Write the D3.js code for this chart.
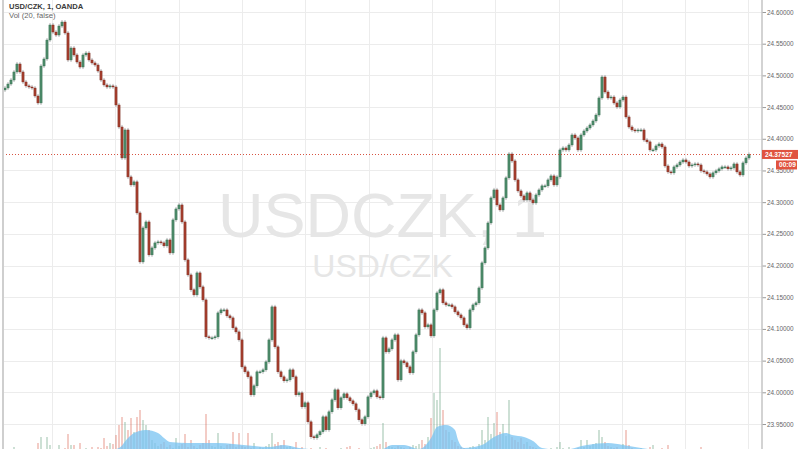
<!DOCTYPE html>
<html><head><meta charset="utf-8">
<script src="https://cdn.jsdelivr.net/npm/d3@7"></script>
<style>html,body{margin:0;padding:0;background:#fff;overflow:hidden}</style>
</head><body>
<svg id="c" width="800" height="449"></svg>
<script>
// ---- data ----
const title = "USD/CZK, 1, OANDA";
const volTitle = "Vol (20, false)";
const watermark = "USDCZK, 1";
const watermarkSub = "USD/CZK";
const lastPrice = 24.37527;
const countdown = "00:09";
const firstOpen = 24.4770;
const closes = [
24.4801,24.4864,24.4927,24.5054,24.5180,24.5054,24.4896,24.4834,24.4817,24.4801,
24.4675,24.4565,24.5148,24.5259,24.5558,24.5795,24.5684,24.5637,24.5779,24.5842,
24.5669,24.5243,24.5432,24.5322,24.5211,24.5132,24.5322,24.5353,24.5243,24.5196,
24.5164,24.5069,24.4927,24.4849,24.4817,24.4834,24.4817,24.4533,24.4186,24.3697,
24.4139,24.3398,24.3272,24.3320,24.2830,24.2057,24.2593,24.2688,24.2168,24.2278,
24.2357,24.2373,24.2357,24.2310,24.2404,24.2199,24.2720,24.2893,24.2956,24.2688,
24.2089,24.1852,24.1617,24.1537,24.1884,24.1663,24.1458,24.0875,24.0859,24.0859,
24.0875,24.1253,24.1300,24.1300,24.1206,24.1174,24.1017,24.0953,24.0827,24.0401,
24.0323,24.0244,23.9960,24.0102,24.0323,24.0323,24.0354,24.0480,24.0827,24.1348,
24.0717,24.0323,24.0244,24.0181,24.0196,24.0354,24.0244,23.9960,23.9991,23.9771,
23.9834,23.9534,23.9298,23.9282,23.9329,23.9377,23.9613,23.9408,23.9692,23.9881,
24.0039,23.9755,23.9913,23.9976,23.9913,23.9865,23.9818,23.9724,23.9566,23.9503,
23.9613,23.9928,23.9991,24.0023,23.9928,23.9913,24.0859,24.0638,24.0685,24.0827,
24.0906,24.0196,24.0496,24.0465,24.0401,24.0307,24.0638,24.0906,24.1300,24.1253,
24.1032,24.1064,24.0890,24.1300,24.1568,24.1617,24.1411,24.1379,24.1379,24.1348,
24.1269,24.1221,24.1174,24.1064,24.1017,24.1300,24.1379,24.1411,24.1647,24.2042,
24.2278,24.2672,24.3067,24.3193,24.2956,24.2877,24.3067,24.3383,24.3760,24.3650,
24.3351,24.3177,24.3098,24.3035,24.3146,24.3035,24.2988,24.3114,24.3193,24.3257,
24.3257,24.3351,24.3414,24.3272,24.3398,24.3824,24.3855,24.3824,24.3902,24.4060,
24.4013,24.3824,24.4060,24.4123,24.4170,24.4218,24.4281,24.4375,24.4644,24.4975,
24.4738,24.4644,24.4659,24.4565,24.4502,24.4612,24.4659,24.4344,24.4186,24.4139,
24.4123,24.4139,24.4139,24.3981,24.3951,24.3824,24.3824,24.3887,24.3918,24.3871,
24.3571,24.3477,24.3462,24.3556,24.3587,24.3634,24.3666,24.3634,24.3571,24.3587,
24.3603,24.3587,24.3493,24.3477,24.3445,24.3398,24.3462,24.3493,24.3525,24.3556,
24.3556,24.3525,24.3540,24.3603,24.3477,24.3429,24.3619,24.3697,24.37527];
const volumes = [
2,1,3,5,2,1,2,3,1,2, 3,9,15,3,15,7,2,3,7,2, 4,18,7,7,3,9,2,4,3,5,
3,5,4,14,6,9,8,17,27,35, 30,22,34,20,35,42,32,27,22,12, 9,6,8,10,5,7,4,14,6,8,
18,5,12,6,4,7,9,38,12,6, 5,19,6,4,7,8,20,5,19,6, 5,19,4,9,3,5,4,6,8,19,
8,10,7,12,5,6,4,10,3,5, 2,3,4,2,3,5,2,4,3,2, 3,2,4,3,5,6,3,2,4,3,
2,3,4,5,6,8,29,10,6,5, 4,6,5,4,3,5,7,6,8,12, 8,15,34,59,52,104,42,22,20,12,
10,6,5,4,3,5,6,4,8,22, 12,35,18,29,40,20,28,16,52,15, 12,10,14,8,10,6,5,4,3,2,
3,2,4,3,5,10,4,3,5,2, 3,4,12,5,12,6,8,9,22,15, 10,6,5,4,5,3,8,22,7,4,
3,2,4,3,2,5,7,3,2,4, 2,7,3,2,1,2,3,2,1,2, 2,1,5,2,1,2,1,1,2,1,
1,2,1,1,2,1,1,2,1];
const maIndex = [0,35,38,41,43,47,51,53,55,61,71,76,83,88,93,98,109,125,129,133,138,142,144,147,150,151,153,159,163,167,169,173,176,179,186,194,201,206,212,218,248];
const maValues = [1,2,4,14,19,22,19,14,10,9,9,8,6,5,7,4,2,2,7,7,3,14,25,27,22,12,4,7,15,19,17,15,11,4,2,7,9,7,4,2,1];
const priceTicks = [23.95,24.00,24.05,24.10,24.15,24.20,24.25,24.30,24.35,24.40,24.45,24.50,24.55,24.60];
const gridTimes = [15.7,36.8,57.9,79.0,100.1,121.2,142.3,163.4,184.5,205.6,226.7,247.8];

// ---- chart ----
const W = 800, H = 449, left = 3, axisX = 762;
const svg = d3.select("#c");
const x = d3.scaleLinear().domain([0, closes.length - 1]).range([5, 749]);
const y = d3.scaleLinear().domain([23.95, 24.60]).range([424, 12]);
const yv = d3.scaleLinear().domain([0, 100]).range([452, 352]);

const bars = closes.map((c, i) => {
  const o = i ? closes[i - 1] : firstOpen;
  return {i, o, c, hi: Math.max(o, c), lo: Math.min(o, c), up: c >= o, v: volumes[i]};
});

svg.append("rect").attr("width", W).attr("height", H).attr("fill", "#fff");
svg.append("clipPath").attr("id", "clip").append("rect")
  .attr("x", left).attr("y", 0).attr("width", axisX - left).attr("height", H);
const plot = svg.append("g").attr("clip-path", "url(#clip)");

// grid
plot.append("g").selectAll("line").data(priceTicks).join("line")
  .attr("x1", left).attr("x2", axisX)
  .attr("y1", d => Math.round(y(d)) + 0.5).attr("y2", d => Math.round(y(d)) + 0.5)
  .attr("stroke", "#ececec").attr("stroke-width", 1);
plot.append("g").selectAll("line").data(gridTimes).join("line")
  .attr("x1", d => Math.round(x(d)) + 0.5).attr("x2", d => Math.round(x(d)) + 0.5)
  .attr("y1", 0).attr("y2", H)
  .attr("stroke", "#ececec").attr("stroke-width", 1);

// watermark
const cx = (left + axisX) / 2;
plot.append("text").text(watermark)
  .attr("x", cx).attr("y", 237).attr("text-anchor", "middle")
  .attr("font-family", "Liberation Sans, Arial, sans-serif").attr("font-size", 63)
  .attr("fill", "#e6e6e6");
plot.append("text").text(watermarkSub)
  .attr("x", cx).attr("y", 277).attr("text-anchor", "middle")
  .attr("font-family", "Liberation Sans, Arial, sans-serif").attr("font-size", 32)
  .attr("fill", "#e6e6e6");

// volume bars
plot.append("g").selectAll("rect").data(bars).join("rect")
  .attr("x", d => x(d.i) - 0.75).attr("width", 1.5)
  .attr("y", d => yv(d.v)).attr("height", d => yv(0) - yv(d.v))
  .attr("fill", d => d.up ? "rgba(107,165,131,0.45)" : "rgba(215,84,66,0.4)");

// volume MA area
const ma = maIndex.map((k, j) => ({i: k, v: maValues[j]}));
plot.append("path").datum(ma)
  .attr("d", d3.area().x(d => x(d.i)).y0(yv(0)).y1(d => yv(d.v)).curve(d3.curveMonotoneX))
  .attr("fill", "rgba(120,195,242,0.75)");

// candles
const cg = plot.append("g");
cg.selectAll("line").data(bars).join("line")
  .attr("x1", d => x(d.i)).attr("x2", d => x(d.i))
  .attr("y1", d => y(d.hi) - 2).attr("y2", d => y(d.lo) + 2)
  .attr("stroke", "#a0a0a2").attr("stroke-width", 0.8);
cg.selectAll("rect").data(bars).join("rect")
  .attr("x", d => x(d.i) - 1.1).attr("width", 2.2)
  .attr("y", d => y(d.hi)).attr("height", d => Math.max(1, y(d.lo) - y(d.hi)))
  .attr("fill", d => d.up ? "#4d8b6a" : "#a63f2e")
  .attr("stroke", d => d.up ? "#2f6a4b" : "#73261b").attr("stroke-width", 0.4);

// last price dotted line
plot.append("line")
  .attr("x1", left).attr("x2", axisX)
  .attr("y1", Math.round(y(lastPrice)) + 0.5).attr("y2", Math.round(y(lastPrice)) + 0.5)
  .attr("stroke", "#d75442").attr("stroke-width", 1).attr("stroke-dasharray", "1,2");

// left border
svg.append("line").attr("x1", left).attr("x2", left).attr("y1", 0).attr("y2", H)
  .attr("stroke", "#cfcfcf").attr("stroke-width", 2);

// price axis
const axis = d3.axisRight(y).tickValues(priceTicks).tickFormat(d3.format(".5f"))
  .tickSize(4).tickPadding(1);
const ag = svg.append("g").attr("transform", `translate(${axisX},0)`).call(axis);
ag.select(".domain").remove();
ag.selectAll(".tick line").attr("stroke", "#9a9a9a");
ag.selectAll(".tick text").attr("fill", "#666").attr("font-size", 6.4)
  .attr("font-family", "Liberation Sans, Arial, sans-serif");
svg.append("line").attr("x1", axisX).attr("x2", axisX).attr("y1", 0).attr("y2", H)
  .attr("stroke", "#c4c4c4").attr("stroke-width", 1.5);

// last price label + countdown
const ly = y(lastPrice);
svg.append("rect").attr("x", axisX).attr("y", ly - 4.5).attr("width", 36).attr("height", 9)
  .attr("fill", "#e0533f");
svg.append("text").text(d3.format(".5f")(lastPrice))
  .attr("x", axisX + 3).attr("y", ly + 2.4)
  .attr("font-family", "Liberation Sans, Arial, sans-serif").attr("font-size", 6.6)
  .attr("font-weight", "bold").attr("fill", "#fff");
svg.append("rect").attr("x", axisX + 14).attr("y", ly + 6).attr("width", 21).attr("height", 9)
  .attr("fill", "#e0533f");
svg.append("text").text(countdown)
  .attr("x", axisX + 17).attr("y", ly + 12.8)
  .attr("font-family", "Liberation Sans, Arial, sans-serif").attr("font-size", 6.6)
  .attr("font-weight", "bold").attr("fill", "#fff");

// header
svg.append("text").text(title).attr("x", 9).attr("y", 8.5)
  .attr("font-family", "Liberation Sans, Arial, sans-serif").attr("font-size", 7.6)
  .attr("font-weight", "bold").attr("fill", "#3a3a3a");
svg.append("text").text(volTitle).attr("x", 9).attr("y", 18.3)
  .attr("font-family", "Liberation Sans, Arial, sans-serif").attr("font-size", 7.6)
  .attr("fill", "#666");
</script>
</body></html>
